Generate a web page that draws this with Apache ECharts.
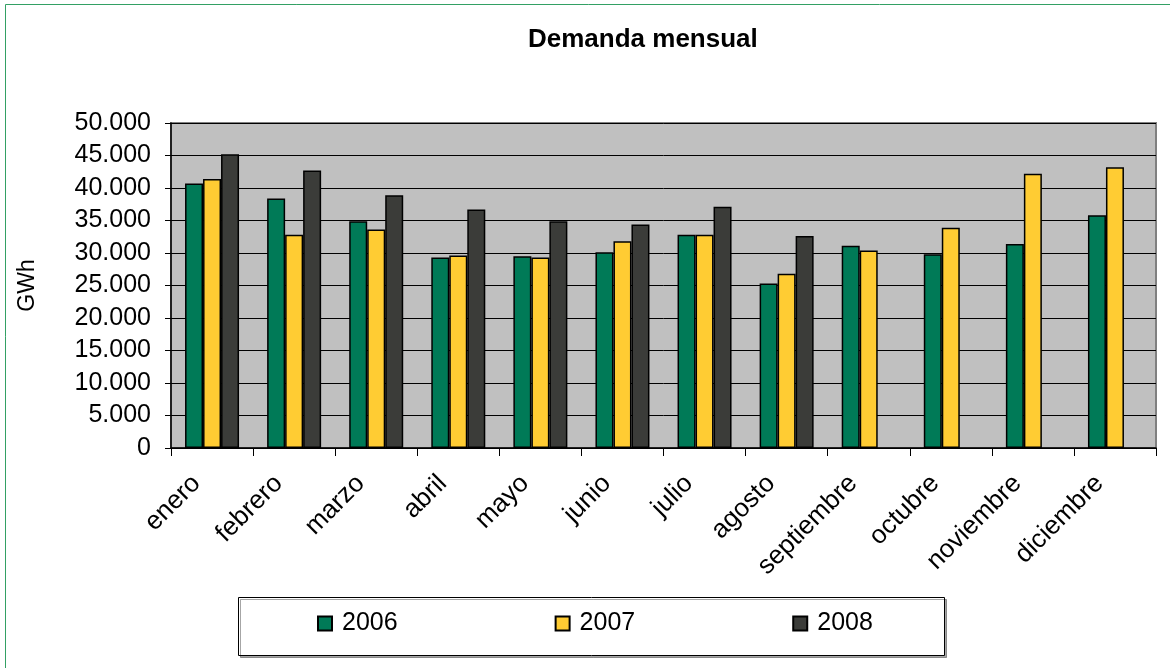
<!DOCTYPE html>
<html>
<head>
<meta charset="utf-8">
<script src="https://cdn.jsdelivr.net/npm/echarts@6/dist/echarts.min.js"></script>
<style>
html,body{margin:0;padding:0;background:#fff;}
#chart{width:1170px;height:668px;}
</style>
</head>
<body>
<div id="chart"></div>
<script>
var months = ['enero','febrero','marzo','abril','mayo','junio','julio','agosto','septiembre','octubre','noviembre','diciembre'];
var d2006 = [40700, 38400, 34900, 29300, 29500, 30100, 32800, 25300, 31100, 29800, 31400, 35800];
var d2007 = [41400, 32800, 33600, 29600, 29300, 31800, 32800, 26800, 30400, 33900, 42200, 43200];
var d2008 = [45200, 42700, 38900, 36700, 34900, 34400, 37100, 32600, '-', '-', '-', '-'];
var seriesNames = ['2006', '2007', '2008'];
var yTicks = [0, 5000, 10000, 15000, 20000, 25000, 30000, 35000, 40000, 45000, 50000];

var font = 'Liberation Sans, Arial, sans-serif';
var colors = ['#007a57', '#ffcc33', '#3b3c39'];

function fmt(v){
  return String(v).replace(/\B(?=(\d{3})+(?!\d))/g, '.');
}

var chart = echarts.init(document.getElementById('chart'));
var data = [d2006, d2007, d2008];
chart.setOption({
  animation: false,
  backgroundColor: '#ffffff',
  textStyle: {fontFamily: font},
  title: {
    text: 'Demanda mensual',
    left: 523,
    top: 22,
    textStyle: {fontFamily: font, fontWeight: 'bold', fontSize: 26, color: '#000'}
  },
  graphic: [
    {type: 'rect', shape: {x: 5.5, y: 4.5, width: 1250, height: 750},
     style: {fill: 'none', stroke: '#33a064', lineWidth: 1}, silent: true, z: -1},
    {type: 'rect', shape: {x: 238.5, y: 597.5, width: 706, height: 58},
     style: {fill: '#fff', stroke: '#000', lineWidth: 1,
             shadowColor: 'rgba(0,0,0,0.35)', shadowOffsetX: 2, shadowOffsetY: 2},
     silent: true, z: 0}
  ],
  legend: {
    data: seriesNames,
    left: 312,
    top: 606,
    itemWidth: 14,
    itemHeight: 14,
    itemGap: 157,
    icon: 'rect',
    z: 5,
    textStyle: {fontFamily: font, fontSize: 25, color: '#000', padding: [0, 0, 0, 5]}
  },
  grid: {
    left: 171, right: 14, top: 123, bottom: 220,
    show: true,
    backgroundColor: '#c0c0c0',
    borderColor: '#808080',
    borderWidth: 2
  },
  xAxis: {
    type: 'category',
    data: months,
    axisLine: {lineStyle: {color: '#000', width: 1.5}},
    axisTick: {show: true, length: 8, lineStyle: {color: '#000'}},
    axisLabel: {rotate: 45, fontSize: 26, color: '#000', fontFamily: font, margin: 16, interval: 0,
                padding: [26, 22, 0, 0]}
  },
  yAxis: {
    type: 'value',
    min: 0, max: 50000, interval: 5000,
    name: 'GWh',
    nameLocation: 'middle',
    nameGap: 132,
    nameTextStyle: {fontSize: 23, color: '#000', fontFamily: font},
    axisLine: {show: true, lineStyle: {color: '#000', width: 1.5}},
    axisTick: {show: true, length: 6, lineStyle: {color: '#000'}},
    splitLine: {show: true, lineStyle: {color: '#000', width: 1}},
    axisLabel: {
      fontSize: 25, color: '#000', fontFamily: font, margin: 20,
      formatter: function(v){ return yTicks.indexOf(v) >= 0 ? fmt(v) : ''; }
    }
  },
  series: seriesNames.map(function(n, i){
    return {
      name: n,
      type: 'bar',
      data: data[i],
      barWidth: 18,
      barGap: '0%',
      itemStyle: {color: colors[i], borderColor: '#000', borderWidth: 1.5}
    };
  })
});
</script>
</body>
</html>
